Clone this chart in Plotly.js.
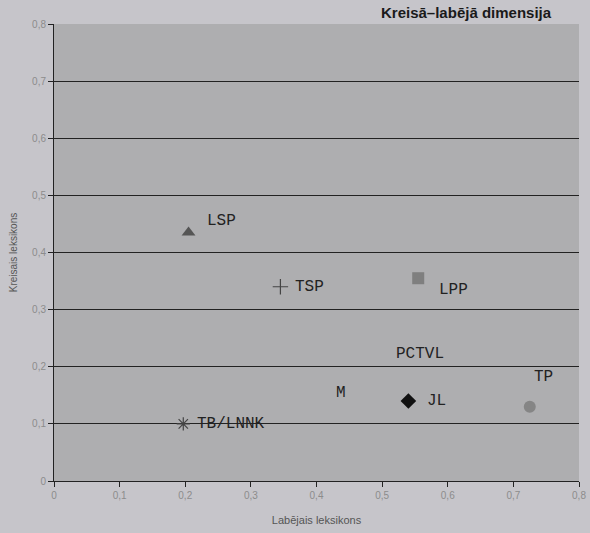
<!DOCTYPE html>
<html>
<head>
<meta charset="utf-8">
<script src="https://cdn.plot.ly/plotly-3.0.1.min.js"></script>
<style>html,body{margin:0;padding:0;background:#c6c5ca;}</style>
</head>
<body>
<div id="chart" style="width:590px;height:533px;"></div>
<script>
// Party positions: x = right-wing lexicon, y = left-wing lexicon
const parties   = ["LSP", "TSP", "LPP", "JL", "TP", "TB/LNNK"];
const xRight    = [0.205, 0.345, 0.555, 0.54, 0.725, 0.197];
const yLeft     = [0.435, 0.34, 0.355, 0.14, 0.13, 0.10];
const symbols   = ["triangle-up", "cross-thin", "square", "diamond", "circle", "asterisk-open"];
const colors    = ["#555555", "#444444", "#7f7f7f", "#111111", "#858585", "#444444"];
// Labels drawn without a visible marker
const textOnly  = ["M", "PCTVL"];
const xTextOnly = [0.438, 0.558];
const yTextOnly = [0.154, 0.222];
// label offsets in px [dx, dy]
const labelShift = [[16, 12], [13, 0], [19, -12], [17, 0], [14, 30], [12, 0]];
const labelAnchor = ["left", "left", "left", "left", "center", "left"];
const xTicks = [0, 0.1, 0.2, 0.3, 0.4, 0.5, 0.6, 0.7, 0.8];
const yTicks = [0, 0.1, 0.2, 0.3, 0.4, 0.5, 0.6, 0.7, 0.8];
const fmt = v => String(v).replace(".", ",");

const traces = parties.map((p, i) => ({
  type: "scatter", mode: "markers",
  x: [xRight[i]], y: [yLeft[i]], name: p,
  marker: {symbol: symbols[i], color: colors[i],
    size: symbols[i] === "cross-thin" || symbols[i] === "asterisk-open" ? 11 : 12,
    line: {color: colors[i], width: symbols[i] === "cross-thin" || symbols[i] === "asterisk-open" ? 1.2 : 0}},
  hoverinfo: "name"
}));

const labelFont = {family: "Liberation Mono, Courier New, monospace", size: 16, color: "#222222"};
const annotations = parties.map((p, i) => ({
  x: xRight[i], y: yLeft[i], xref: "x", yref: "y", text: p, showarrow: false,
  xanchor: labelAnchor[i], yanchor: "middle",
  xshift: labelShift[i][0], yshift: labelShift[i][1], font: labelFont
})).concat(textOnly.map((t, i) => ({
  x: xTextOnly[i], y: yTextOnly[i], xref: "x", yref: "y", text: t, showarrow: false,
  xanchor: "center", yanchor: "middle", font: labelFont
}))).concat([{
  xref: "paper", yref: "paper", x: 0.953, y: 1, xanchor: "right", yanchor: "bottom",
  yshift: 1, showarrow: false, text: "<b>Kreisā–labējā dimensija</b>",
  font: {family: "Liberation Sans, Arial, sans-serif", size: 15, color: "#1a1a1a"}
}]);

const tickFont = {family: "Liberation Sans, Arial, sans-serif", size: 10, color: "#8c8c8c"};
const layout = {
  width: 590, height: 533,
  margin: {l: 54, r: 11, t: 24, b: 52},
  paper_bgcolor: "#c6c5ca", plot_bgcolor: "#aeaeb0",
  showlegend: false,
  xaxis: {
    range: [0, 0.8], tickvals: xTicks, ticktext: xTicks.map(fmt),
    showgrid: false, zeroline: false, showline: true, linecolor: "#222", linewidth: 1,
    ticks: "outside", ticklen: 5, tickcolor: "#222", tickfont: tickFont,
    title: {text: "Labējais leksikons", standoff: 16,
      font: {family: "Liberation Sans, Arial, sans-serif", size: 11, color: "#555"}}
  },
  yaxis: {
    range: [0, 0.8], tickvals: yTicks, ticktext: yTicks.map(fmt),
    showgrid: true, gridcolor: "#222", gridwidth: 1, zeroline: false,
    showline: true, linecolor: "#222", linewidth: 1,
    ticks: "outside", ticklen: 5, tickcolor: "#222", tickfont: tickFont,
    title: {text: "Kreisais leksikons", standoff: 12,
      font: {family: "Liberation Sans, Arial, sans-serif", size: 10, color: "#555"}}
  },
  annotations: annotations
};

Plotly.newPlot("chart", traces, layout, {staticPlot: true});
</script>
</body>
</html>
